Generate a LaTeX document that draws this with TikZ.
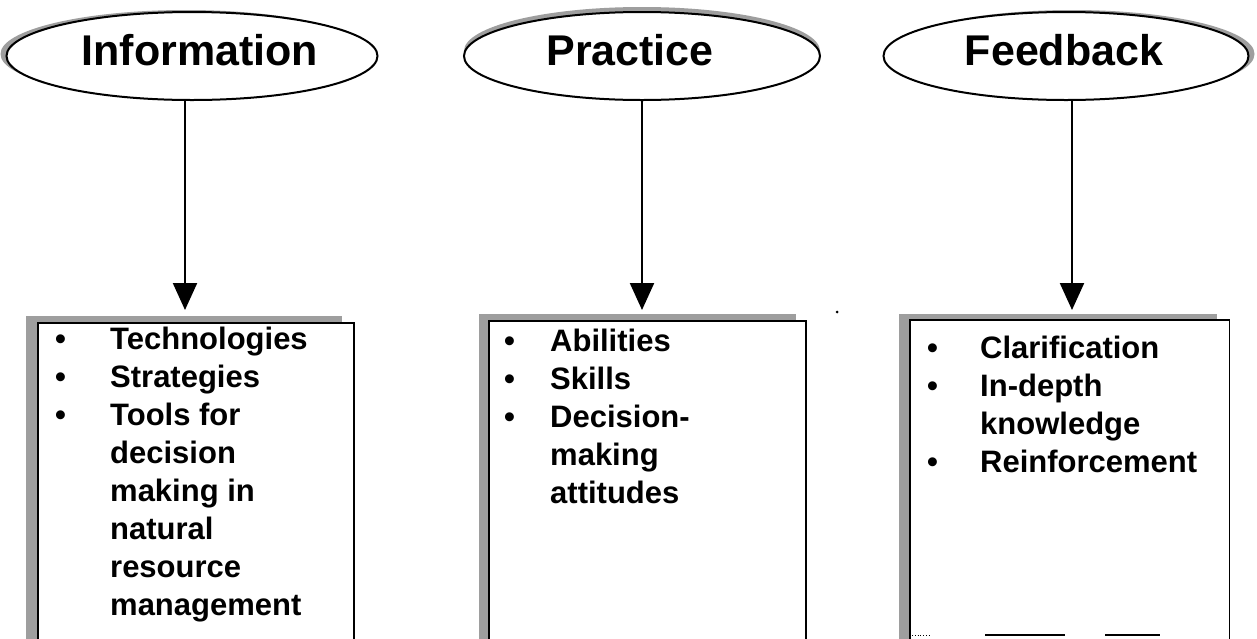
\documentclass[tikz,border=0pt]{standalone}
\usepackage{fontspec}
\setmainfont{Liberation Sans}
\usetikzlibrary{shapes.geometric,arrows.meta,shadows}
\begin{document}
\begin{tikzpicture}[x=1pt,y=-1pt,
  oval/.style={ellipse, draw=black, line width=2pt, fill=white, inner sep=0pt,
    font=\fontsize{43}{50}\selectfont\bfseries},
  listbox/.style={rectangle, draw=black, line width=1.6pt, fill=white, anchor=north west, inner sep=0pt},
  conn/.style={line width=2.2pt, -{Triangle[length=27pt,width=24pt]}},
  items/.style={anchor=base west, inner sep=0pt, font=\fontsize{31}{38}\selectfont\bfseries},
  sh/.style={fill=black!38, opacity=1},
  title/.style={inner sep=0pt, font=\fontsize{43}{50}\selectfont\bfseries}
]
\useasboundingbox (0,0) rectangle (1257,638);
\fill[white] (0,0) rectangle (1257,638);

% ellipses
\node[oval, minimum width=371pt, minimum height=88pt,
  drop shadow={shadow xshift=-6pt, shadow yshift=2pt, sh}] (e1) at (192,56) {};
\node[oval, minimum width=356pt, minimum height=88pt,
  drop shadow={shadow xshift=0pt, shadow yshift=5pt, sh}] (e2) at (642,56) {};
\node[oval, minimum width=365pt, minimum height=88pt,
  drop shadow={shadow xshift=6pt, shadow yshift=2pt, sh}] (e3) at (1066,56) {};
\node[title] (l1) at (200,50) {Information};
\node[title] (l2) at (630,50) {Practice};
\node[title] (l3) at (1064,50) {Feedback};

% boxes
\node[listbox, minimum width=316pt, minimum height=340pt,
  drop shadow={shadow xshift=-12pt, shadow yshift=7pt, sh}] (b1) at (37,322) {};
\node[listbox, minimum width=317pt, minimum height=340pt,
  drop shadow={shadow xshift=-10pt, shadow yshift=7pt, sh}] (b2) at (488,320) {};
\node[listbox, draw=none, minimum width=318pt, minimum height=340pt,
  drop shadow={shadow xshift=-12pt, shadow yshift=7pt, sh}] (b3) at (910,320) {};
\draw[line width=1.6pt] (b3.south west) -- (b3.north west) -- (b3.north east) -- (b3.south east);
\coordinate (r1) at (912,635);
\coordinate (r2) at (930,635);
\coordinate (r3) at (985,635);
\coordinate (r4) at (1065,635);
\coordinate (r5) at (1105,635);
\coordinate (r6) at (1160,635);
\draw[line width=0.8pt, dotted] (r1) -- (r2);
\draw[line width=1.6pt] (r3) -- (r4);
\draw[line width=1.6pt] (r5) -- (r6);

% arrows
\coordinate (a1) at (185,310);
\coordinate (a2) at (642,310);
\coordinate (a3) at (1072,310);
\draw[conn] (e1.south -| a1) -- (a1);
\draw[conn] (e2.south -| a2) -- (a2);
\draw[conn] (e3.south -| a3) -- (a3);

% lists
\node[items] (t1) at (55,349) {\begin{tabular}[t]{@{}p{55pt}@{}l@{}}
\textbullet & Technologies\\
\textbullet & Strategies\\
\textbullet & Tools for\\
 & decision\\
 & making in\\
 & natural\\
 & resource\\
 & management
\end{tabular}};
\node[items] (t2) at (504,351) {\begin{tabular}[t]{@{}p{46pt}@{}l@{}}
\textbullet & Abilities\\
\textbullet & Skills\\
\textbullet & Decision-\\
 & making\\
 & attitudes
\end{tabular}};
\node[items] (t3) at (927,358) {\begin{tabular}[t]{@{}p{53pt}@{}l@{}}
\textbullet & Clarification\\
\textbullet & In-depth\\
 & knowledge\\
\textbullet & Reinforcement
\end{tabular}};

% speck
\fill (837,312) circle (1.5pt);
\end{tikzpicture}
\end{document}
